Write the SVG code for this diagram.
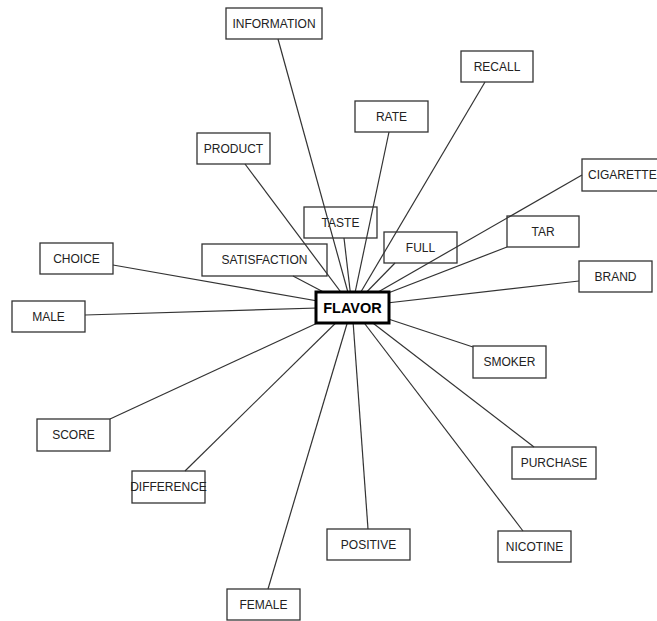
<svg xmlns="http://www.w3.org/2000/svg" width="657" height="621" viewBox="0 0 657 621">
<style>
.n rect{fill:none;stroke:#333;stroke-width:1.3}
.n text{font-family:"Liberation Sans",Arial,sans-serif;font-size:12px;fill:#222;text-anchor:middle}
#edges line{stroke:#333;stroke-width:1.2}
#FLAVOR rect{fill:#fff;stroke:#000;stroke-width:3}
#FLAVOR text{font-family:"Liberation Sans",Arial,sans-serif;font-size:14.5px;font-weight:bold;fill:#000;text-anchor:middle}
</style>
<rect width="657" height="621" fill="#fff"/>
<g id="nodes">
<g id="INFORMATION" class="n"><rect x="226" y="8" width="96" height="31"/><text x="274" y="28">INFORMATION</text></g>
<g id="RATE" class="n"><rect x="355" y="101" width="73" height="31"/><text x="391.5" y="121">RATE</text></g>
<g id="PRODUCT" class="n"><rect x="197" y="133" width="73" height="31"/><text x="233.5" y="153">PRODUCT</text></g>
<g id="RECALL" class="n"><rect x="461" y="51" width="72" height="31"/><text x="497" y="71">RECALL</text></g>
<g id="CIGARETTE" class="n"><rect x="582" y="159" width="78" height="32"/><text x="588" y="179" style="text-anchor:start">CIGARETTE</text></g>
<g id="TAR" class="n"><rect x="507" y="216" width="72" height="31"/><text x="543" y="236">TAR</text></g>
<g id="BRAND" class="n"><rect x="579" y="261" width="73" height="31"/><text x="615.5" y="281">BRAND</text></g>
<g id="FULL" class="n"><rect x="384" y="232" width="73" height="31"/><text x="420.5" y="252">FULL</text></g>
<g id="TASTE" class="n"><rect x="304" y="207" width="73" height="31"/><text x="340.5" y="227">TASTE</text></g>
<g id="SATISFACTION" class="n"><rect x="202" y="244" width="125" height="32"/><text x="264.5" y="264">SATISFACTION</text></g>
<g id="CHOICE" class="n"><rect x="40" y="243" width="73" height="31"/><text x="76.5" y="263">CHOICE</text></g>
<g id="MALE" class="n"><rect x="12" y="301" width="73" height="31"/><text x="48.5" y="321">MALE</text></g>
<g id="SCORE" class="n"><rect x="37" y="419" width="73" height="32"/><text x="73.5" y="439">SCORE</text></g>
<g id="DIFFERENCE" class="n"><rect x="132" y="471" width="73" height="32"/><text x="168.5" y="491">DIFFERENCE</text></g>
<g id="FEMALE" class="n"><rect x="227" y="589" width="73" height="31"/><text x="263.5" y="609">FEMALE</text></g>
<g id="SMOKER" class="n"><rect x="473" y="346" width="73" height="32"/><text x="509.5" y="366">SMOKER</text></g>
<g id="PURCHASE" class="n"><rect x="512" y="447" width="84" height="32"/><text x="554" y="467">PURCHASE</text></g>
<g id="POSITIVE" class="n"><rect x="327" y="529" width="83" height="31"/><text x="368.5" y="549">POSITIVE</text></g>
<g id="NICOTINE" class="n"><rect x="498" y="531" width="73" height="31"/><text x="534.5" y="551">NICOTINE</text></g>
</g>
<g id="edges">
<line x1="278" y1="39" x2="352" y2="307"/>
<line x1="389" y1="132" x2="352" y2="307"/>
<line x1="245" y1="164" x2="352" y2="307"/>
<line x1="485" y1="82" x2="352" y2="307"/>
<line x1="582" y1="175" x2="352" y2="307"/>
<line x1="507" y1="247" x2="352" y2="307"/>
<line x1="579" y1="281" x2="352" y2="307"/>
<line x1="395" y1="263" x2="352" y2="307"/>
<line x1="344" y1="238" x2="352" y2="307"/>
<line x1="293" y1="276" x2="352" y2="307"/>
<line x1="113" y1="265" x2="352" y2="307"/>
<line x1="85" y1="315" x2="352" y2="307"/>
<line x1="110" y1="419" x2="352" y2="307"/>
<line x1="185" y1="471" x2="352" y2="307"/>
<line x1="268" y1="589" x2="352" y2="307"/>
<line x1="473" y1="347" x2="352" y2="307"/>
<line x1="534" y1="447" x2="352" y2="307"/>
<line x1="368" y1="529" x2="352" y2="307"/>
<line x1="523" y1="531" x2="352" y2="307"/>
</g>
<g id="FLAVOR"><rect x="316" y="292" width="73" height="31"/><text x="352.5" y="313">FLAVOR</text></g>
</svg>
